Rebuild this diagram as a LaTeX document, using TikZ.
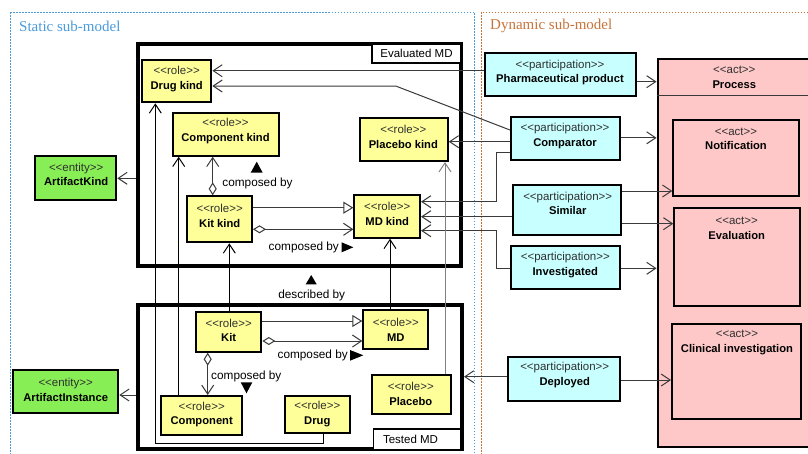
\documentclass[tikz,border=0pt]{standalone}
\usepackage{fontspec}
\setmainfont{Liberation Sans}
\newfontfamily\titlefont{Liberation Serif}
\usetikzlibrary{arrows.meta}
\definecolor{roleY}{HTML}{FFFF99}
\definecolor{partC}{HTML}{C8FFFF}
\definecolor{entG}{HTML}{88EE55}
\definecolor{actP}{HTML}{FFC8C8}
\definecolor{statB}{HTML}{4A9BDB}
\definecolor{dynO}{HTML}{C8743A}
\definecolor{conn}{HTML}{3A3A3A}
\definecolor{stereoC}{HTML}{303030}
\newcommand\stereo[1]{{\fontsize{11.5}{14.5}\selectfont\color{stereoC}<\kern0pt<#1>\kern0pt>}}
\newcommand\nm[1]{\textbf{#1}}
\tikzset{
  ubox/.style={draw=black, line width=2pt, inner sep=0pt},
  role/.style={ubox, fill=roleY},
  part/.style={ubox, fill=partC},
  ent/.style={ubox, fill=entG},
  act/.style={ubox, fill=actP},
  frame/.style={draw=black, line width=4pt, inner sep=0pt},
  tag/.style={draw=black, line width=1.5pt, fill=white, inner sep=0pt, font=\fontsize{11.5}{14}\selectfont},
  txt/.style={align=center, inner sep=0pt, font=\fontsize{11.2}{14.5}\selectfont},
  lbl/.style={inner sep=0pt, font=\fontsize{11.8}{14}\selectfont},
  title/.style={anchor=west, inner sep=0pt, font=\titlefont\fontsize{15}{18}\selectfont},
  arr/.style={draw=conn, line width=1pt, -{Straight Barb[length=9pt,width=12pt]}},
  gen/.style={draw=conn, line width=1pt, -{Triangle[open,length=10pt,width=12pt,fill=white]}},
  agg/.style={draw=conn, line width=1pt, {Diamond[open,length=13pt,width=8pt,fill=white]}-{Straight Barb[length=9pt,width=12pt]}},
  region/.style={line width=0.9pt, dash pattern=on 1.5pt off 1.5pt},
}
\begin{document}
\begin{tikzpicture}[x=1pt,y=-1pt]
\useasboundingbox (0,0) rectangle (808,453);
\fill[white] (0,0) rectangle (808,453);
% regions
\draw[region, draw=statB] (10,12) rectangle (474,470);
\draw[region, draw=dynO] (481,12) rectangle (830,470);
\node[title, text=statB] (stitle) at (19,26) {Static sub-model};
\node[title, text=dynO] (dtitle) at (490,26) {Dynamic sub-model};
% frames
\node[frame, minimum width=323.6, minimum height=222] (evalmd) at (299.5,154.7) {};
\node[frame, minimum width=324.3, minimum height=143.7] (testedmd) at (299.8,377.2) {};
\node[tag, minimum width=89, minimum height=19] (evaltag) at (416.5,53.5) {Evaluated MD};
\node[tag, minimum width=87, minimum height=21] (testtag) at (417.2,439.3) {};
\node[lbl, font=\fontsize{11.5}{14}\selectfont] (testtag-t) at (410.5,439.3) {Tested MD};
% process
\node[act, line width=2.5pt, minimum width=153, minimum height=388] (process) at (734.3,253) {};
\draw[line width=1pt, draw=conn] (process.west |- 0,95) -- (process.east |- 0,95);
\node[txt] (process-t) at (734.3,77.2) {\stereo{act}\\\nm{Process}};
\node[act, minimum width=125.7, minimum height=76.3] (notif) at (736.2,158.2) {};
\node[txt] (notif-t) at (736,138.8) {\stereo{act}\\\nm{Notification}};
\node[act, minimum width=126, minimum height=98] (eval) at (737.3,257.3) {};
\node[txt] (eval-t) at (736.7,228.2) {\stereo{act}\\\nm{Evaluation}};
\node[act, minimum width=129.3, minimum height=94.7] (clinical) at (736.7,371.7) {};
\node[txt] (clinical-t) at (737,342.7) {\stereo{act}\\\nm{Clinical investigation}};
% entities
\node[ent, minimum width=81.6, minimum height=44.6] (artkind) at (75.5,178) {};
\node[txt] (artkind-t) at (76.2,174.2) {\stereo{entity}\\\nm{ArtifactKind}};
\node[ent, minimum width=105, minimum height=43] (artinst) at (65.8,391.5) {};
\node[txt] (artinst-t) at (65.7,389.8) {\stereo{entity}\\\nm{ArtifactInstance}};
% roles (kinds)
\node[role, minimum width=69.3, minimum height=42.6] (drugkind) at (176.7,81) {};
\node[txt] (drugkind-t) at (176.7,79.2) {\stereo{role}\\\nm{Drug kind}};
\node[role, minimum width=106, minimum height=43] (compkind) at (225.7,134.2) {};
\node[txt] (compkind-t) at (225.5,131.2) {\stereo{role}\\\nm{Component kind}};
\node[role, minimum width=87.7, minimum height=42.7] (placebokind) at (403.9,139.7) {};
\node[txt] (placebokind-t) at (403.3,136.7) {\stereo{role}\\\nm{Placebo kind}};
\node[role, minimum width=65, minimum height=46] (kitkind) at (219.5,219.3) {};
\node[txt] (kitkind-t) at (219.7,215.7) {\stereo{role}\\\nm{Kit kind}};
\node[role, minimum width=65.7, minimum height=42.7] (mdkind) at (387.2,216.4) {};
\node[txt] (mdkind-t) at (387.2,213.8) {\stereo{role}\\\nm{MD kind}};
% roles (instances)
\node[role, minimum width=65.3, minimum height=40] (kit) at (228.7,331.7) {};
\node[txt] (kit-t) at (228.7,330.2) {\stereo{role}\\\nm{Kit}};
\node[role, minimum width=65, minimum height=38.7] (md) at (395.8,329.7) {};
\node[txt] (md-t) at (395.8,329.8) {\stereo{role}\\\nm{MD}};
\node[role, minimum width=80.7, minimum height=38.7] (component) at (201.7,415.3) {};
\node[txt] (component-t) at (201.7,414.7) {\stereo{role}\\\nm{Component}};
\node[role, minimum width=64.7, minimum height=37.3] (drug) at (317.3,414.3) {};
\node[txt] (drug-t) at (317.3,414) {\stereo{role}\\\nm{Drug}};
\node[role, minimum width=79.6, minimum height=38.7] (placebo) at (411.5,394.3) {};
\node[txt] (placebo-t) at (410.8,393.7) {\stereo{role}\\\nm{Placebo}};
% participations
\node[part, minimum width=150.7, minimum height=43] (pharm) at (560.3,74.8) {};
\node[txt] (pharm-t) at (560,72.7) {\stereo{participation}\\\nm{Pharmaceutical product}};
\node[part, minimum width=108.7, minimum height=43.3] (comparator) at (565.3,138.3) {};
\node[txt] (comparator-t) at (565,136.2) {\stereo{participation}\\\nm{Comparator}};
\node[part, minimum width=108.3, minimum height=50] (similar) at (566.8,210) {};
\node[txt] (similar-t) at (567.7,203.3) {\stereo{participation}\\\nm{Similar}};
\node[part, minimum width=108.7, minimum height=42.4] (investigated) at (565.3,267.5) {};
\node[txt] (investigated-t) at (565.3,265) {\stereo{participation}\\\nm{Investigated}};
\node[part, minimum width=112, minimum height=43.7] (deployed) at (563.7,378.8) {};
\node[txt] (deployed-t) at (564.7,375.2) {\stereo{participation}\\\nm{Deployed}};
% helper coordinates
\coordinate (bend1) at (395.7,86);
\coordinate (jog) at (496.7,0);
\coordinate (dl) at (155.3,443.7);
% connectors
\draw[arr] (evalmd.west |- 0,178.3) -- (artkind.east |- 0,178.3);
\draw[arr] (testedmd.west |- 0,395) -- (artinst.east |- 0,395);
\draw[arr] (pharm.west |- 0,70.7) -- (drugkind.east |- 0,70.7);
\draw[arr] (comparator.west |- 0,130) -- (bend1) -- (drugkind.east |- bend1);
\draw[arr] (comparator.west |- 0,141.7) -- (placebokind.east |- 0,141.7);
\draw[arr] (comparator.west |- 0,152.3) -| (jog |- 0,201.7) -- (mdkind.east |- 0,201.7);
\draw[arr] (similar.west |- 0,216.7) -- (mdkind.east |- 0,216.7);
\draw[arr] (investigated.west |- 0,268.3) -| (jog |- 0,230.7) -- (mdkind.east |- 0,230.7);
\draw[arr] (deployed.west |- 0,376.7) -- (testedmd.east |- 0,376.7);
\draw[arr] (pharm.east |- 0,81.7) -- (process.west |- 0,81.7);
\draw[arr] (comparator.east |- 0,137.8) -- (process.west |- 0,137.8);
\draw[arr] (similar.east |- 0,191) -- (notif.west |- 0,191);
\draw[arr] (similar.east |- 0,223.7) -- (eval.west |- 0,223.7);
\draw[arr] (investigated.east |- 0,268.3) -- (process.west |- 0,268.3);
\draw[arr] (deployed.east |- 0,380) -- (clinical.west |- 0,380);
\draw[gen] (kitkind.east |- 0,207.7) -- (mdkind.west |- 0,207.7);
\draw[agg] (kitkind.east |- 0,229.3) -- (mdkind.west |- 0,229.3);
\draw[agg] (kitkind.north -| 212.7,0) -- (compkind.south -| 212.7,0);
\draw[gen] (kit.east |- 0,321) -- (md.west |- 0,321);
\draw[agg] (kit.east |- 0,341) -- (md.west |- 0,341);
\draw[agg] (kit.south -| 207.7,0) -- (component.north -| 207.7,0);
\draw[arr, draw=black] (drug.south -| 323.3,0) |- (dl) -- (drugkind.south -| dl);
\draw[arr, draw=black] (component.north -| 178.7,0) -- (compkind.south -| 178.7,0);
\draw[arr, draw=black] (kit.north -| 229.3,0) -- (kitkind.south -| 229.3,0);
\draw[arr, draw=black] (md.north -| 390,0) -- (mdkind.south -| 390,0);
\draw[arr, draw=gray] (placebo.north -| 445,0) -- (placebokind.south -| 445,0);
% association labels
\fill (250.7,172.7) -- (262.7,172.7) -- (256.7,161.7) -- cycle;
\node[lbl] (cb1) at (257.5,183.7) {composed by};
\node[lbl] (cb2) at (303.8,247.3) {composed by};
\fill (341.7,242.3) -- (341.7,252.3) -- (353.3,247.3) -- cycle;
\fill (305.7,284.3) -- (316.7,284.3) -- (311.2,275) -- cycle;
\node[lbl] (db) at (311.7,295) {described by};
\node[lbl] (cb3) at (312.7,355) {composed by};
\fill (350,350) -- (350,360.7) -- (363.3,355.3) -- cycle;
\node[lbl] (cb4) at (246.3,376) {composed by};
\fill (240.7,382.3) -- (252.3,382.3) -- (246.5,393.3) -- cycle;
\end{tikzpicture}
\end{document}
